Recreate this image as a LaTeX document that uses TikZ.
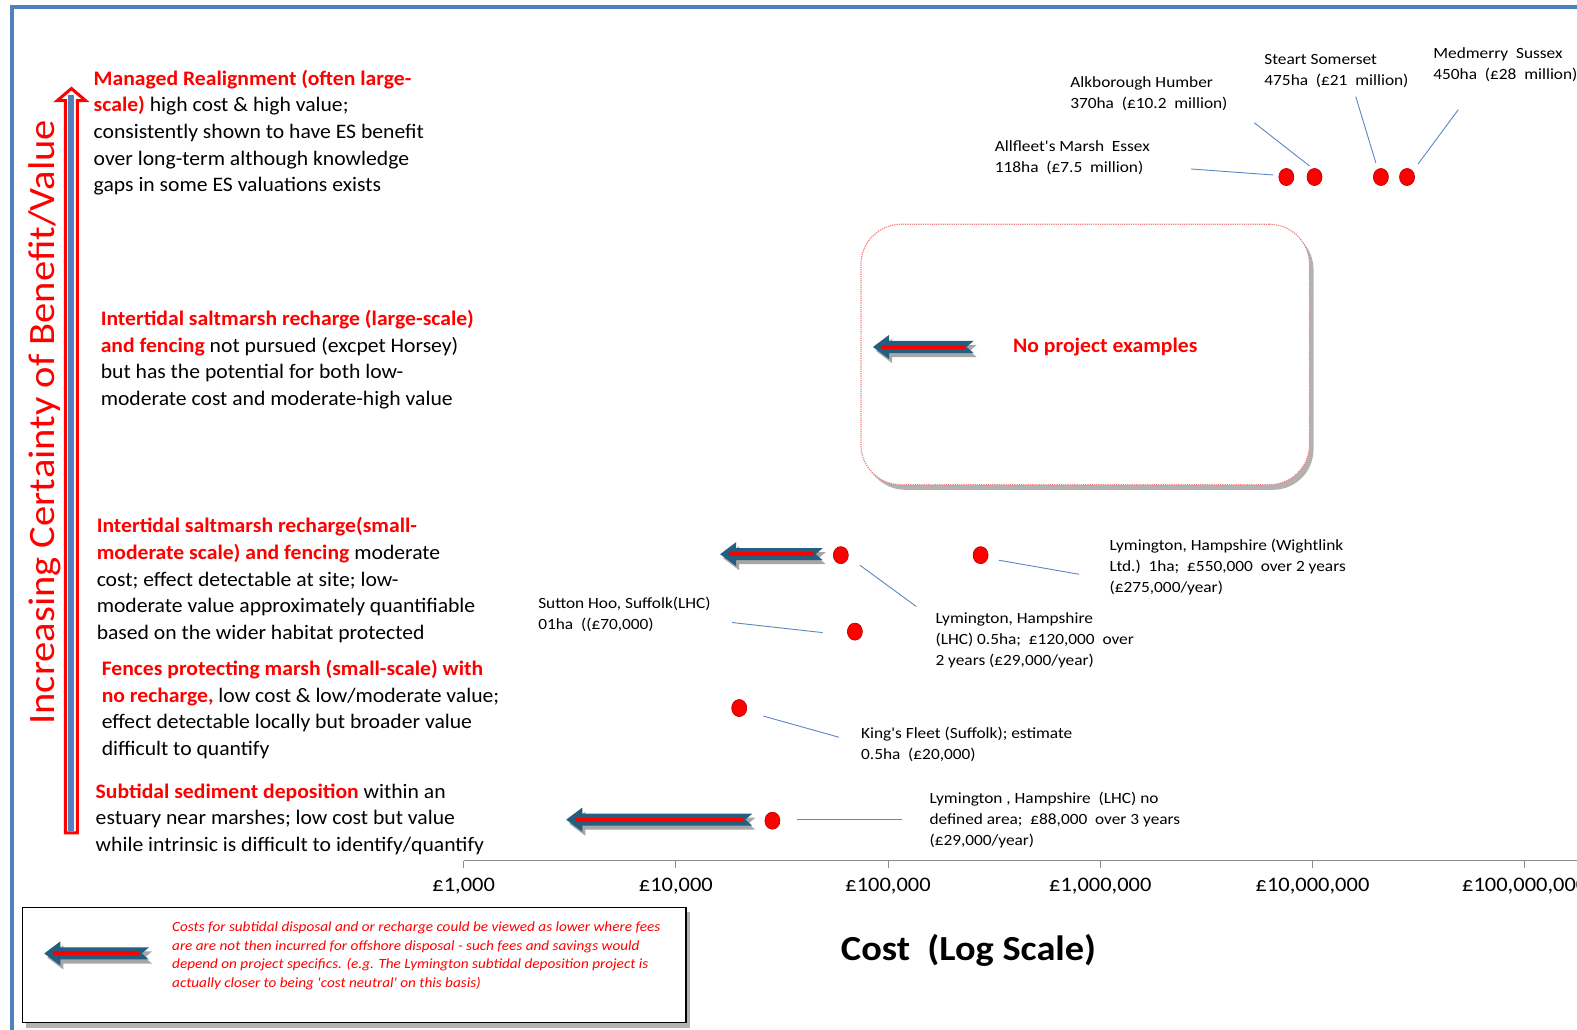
\documentclass[tikz,border=0pt]{standalone}
\usepackage{fontspec}
\setmainfont{Carlito}
\newfontfamily\fA[FakeStretch=1.05]{Carlito}
\newfontfamily\fB[FakeStretch=1.11]{Carlito}
\newfontfamily\fC[FakeStretch=1.08]{Carlito}
\newfontfamily\fD[FakeStretch=1.09]{Carlito}
\usetikzlibrary{shadows,shapes.geometric}
\definecolor{frameblue}{HTML}{4F81BD}
\definecolor{arrblue}{HTML}{245F80}
\definecolor{leadcol}{HTML}{5B87C5}
\definecolor{boxred}{HTML}{F08080}
\definecolor{dotred}{HTML}{FF0000}
\definecolor{dotedge}{HTML}{B00000}
\definecolor{axisgray}{HTML}{8C8C8C}
\newcommand{\rb}[1]{\textcolor{red}{\bfseries #1}}
\newcommand{\fatarrow}[3]{%
  \fill[arrblue, drop shadow={shadow xshift=3pt,shadow yshift=-4pt,opacity=0.35,fill=black}]
    (#1,#2) -- (#1+16,#2-12) -- (#1+16,#2-6) -- (#3,#2-6) -- (#3-7,#2) -- (#3,#2+6)
    -- (#1+16,#2+6) -- (#1+16,#2+12) -- cycle;
  \draw[red, line width=4pt] (#1+9,#2) -- (#3-9,#2);
}
\tikzset{
  blk/.style={anchor=north west, inner sep=0pt, align=left, font=\fA\fontsize{20.5}{26.5}\selectfont},
  lbl/.style={anchor=north west, inner sep=0pt, align=left, font=\fB\fontsize{15.5}{21}\selectfont},
  dot/.style={ellipse, fill=dotred, draw=dotedge, line width=0.6pt, minimum width=15pt, minimum height=17pt, inner sep=0pt},
  lead/.style={draw=leadcol, line width=0.9pt},
  ticklab/.style={font=\fD\fontsize{20.5}{22}\selectfont, inner sep=0pt},
}
\begin{document}
\begin{tikzpicture}[x=1pt,y=-1pt]
\useasboundingbox (0,0) rectangle (1568,1024);
% frame
\draw[frameblue, line width=4pt] (12,1030) -- (12,7) -- (1580,7);
% vertical arrow
\draw[red, line width=3pt, fill=white, line join=miter] (65,828) -- (77,828) -- (77,100) -- (85,100) -- (71,88) -- (57,100) -- (65,100) -- cycle;
\fill[frameblue] (68,826) rectangle (74,94);
\node[rotate=90, anchor=base, text=red, font=\fD\fontsize{37}{42}\selectfont, inner sep=0pt] (ylab) at (54,420) {Increasing Certainty of Benefit/Value};
% left text blocks
\node[blk] (t1) at (93,66) {\strut\rb{Managed Realignment (often large-}\\\rb{scale)} high cost \& high value;\\consistently shown to have ES benefit\\over long-term although knowledge\\gaps in some ES valuations exists};
\node[blk] (t2) at (100,305) {\strut\rb{Intertidal saltmarsh recharge (large-scale)}\\\rb{and fencing} not pursued (excpet Horsey)\\but has the potential for both low-\\moderate cost and moderate-high value};
\node[blk] (t3) at (96,511) {\strut\rb{Intertidal saltmarsh recharge(small-}\\\rb{moderate scale) and fencing} moderate\\cost; effect detectable at site; low-\\moderate value approximately quantifiable\\based on the wider habitat protected};
\node[blk] (t4) at (101,653) {\strut\rb{Fences protecting marsh (small-scale) with}\\\rb{no recharge,} low cost \& low/moderate value;\\effect detectable locally but broader value\\difficult to quantify};
\node[blk] (t5) at (95,775) {\strut\rb{Subtidal sediment deposition} within an\\estuary near marshes; low cost but value\\while intrinsic is difficult to identify/quantify};
% axis
\draw[axisgray, line width=1pt] (461,856) -- (1580,856);
\foreach \i in {0,...,5}{
  \draw[axisgray, line width=1pt] (461+211*\i,856) -- (461+211*\i,863);
}
\node[ticklab] (k0) at (461,881) {£1,000};
\node[ticklab] (k1) at (672,881) {£10,000};
\node[ticklab] (k2) at (883,881) {£100,000};
\node[ticklab] (k3) at (1094,881) {£1,000,000};
\node[ticklab] (k4) at (1305,881) {£10,000,000};
\node[ticklab] (k5) at (1516,881) {£100,000,000};
\node[font=\fD\bfseries\fontsize{35}{40}\selectfont, inner sep=0pt] (xlab) at (963,945) {Cost\ \ (Log Scale)};
% no project box
\node[draw=boxred, densely dotted, line width=1.2pt, fill=white, rounded corners=40pt, minimum width=446pt, minimum height=259pt,
  drop shadow={shadow xshift=4pt,shadow yshift=-5pt,opacity=0.3,fill=black}] (npbox) at (1079,352.5) {};
\node[text=red, font=\fA\bfseries\fontsize{20.5}{24}\selectfont, inner sep=0pt] (nptext) at (1099,345) {No project examples};
\fatarrow{868}{345}{968}
% top labels
\node[lbl] (la) at (989,136) {\strut Allfleet's Marsh\ \ Essex\\118ha\ \ (£7.5\ \ million)};
\node[lbl] (lb) at (1064,72) {\strut Alkborough Humber\\370ha\ \ (£10.2\ \ million)};
\node[lbl] (lc) at (1257,49) {\strut Steart Somerset\\475ha\ \ (£21\ \ million)};
\node[lbl] (ld) at (1425,43) {\strut Medmerry\ \ Sussex\\450ha\ \ (£28\ \ million)};
\node[dot] (da) at (1279,176) {};
\node[dot] (db) at (1307,176) {};
\node[dot] (dc) at (1373,176) {};
\node[dot] (dd) at (1399,176) {};
\coordinate (a1) at (1184,168); \coordinate (a2) at (1266,174);
\coordinate (b1) at (1247,122); \coordinate (b2) at (1302,165);
\coordinate (c1) at (1348,96);  \coordinate (c2) at (1368,162);
\coordinate (e1) at (1450,109); \coordinate (e2) at (1410,163);
\draw[lead] (a1) -- (a2);
\draw[lead] (b1) -- (b2);
\draw[lead] (c1) -- (c2);
\draw[lead] (e1) -- (e2);
% middle examples
\fatarrow{716}{551}{818}
\node[dot] (dm1) at (836,552) {};
\node[dot] (dm2) at (975,552) {};
\node[dot] (dm3) at (850,628) {};
\node[dot] (dm4) at (735,704) {};
\node[dot] (dm5) at (768,816) {};
\node[lbl] (lw) at (1103,532) {\strut Lymington, Hampshire (Wightlink\\Ltd.)\ \ 1ha;\ \ £550,000\ \ over 2 years\\(£275,000/year)};
\node[lbl] (ls) at (535,590) {\strut Sutton Hoo, Suffolk(LHC)\\01ha\ \ ((£70,000)};
\node[lbl] (ll) at (930,605) {\strut Lymington, Hampshire\\(LHC) 0.5ha;\ \ £120,000\ \ over\\2 years (£29,000/year)};
\node[lbl] (lk) at (856,719) {\strut King's Fleet (Suffolk); estimate\\0.5ha\ \ (£20,000)};
\node[lbl] (ln) at (924,784) {\strut Lymington\ , Hampshire\ \ (LHC) no\\defined area;\ \ £88,000\ \ over 3 years\\(£29,000/year)};
\coordinate (w1) at (993,557); \coordinate (w2) at (1073,571);
\coordinate (s1) at (728,619); \coordinate (s2) at (818,629);
\coordinate (m1) at (855,562); \coordinate (m2) at (911,603);
\coordinate (f1) at (759,712); \coordinate (f2) at (834,733);
\coordinate (n1) at (792,815); \coordinate (n2) at (897,815);
\draw[lead] (w1) -- (w2);
\draw[lead] (s1) -- (s2);
\draw[lead] (m1) -- (m2);
\draw[lead] (f1) -- (f2);
\draw[lead] (n1) -- (n2);
\fatarrow{563}{815}{748}
% legend
\node[draw=black, line width=1.2pt, fill=white, minimum width=660pt, minimum height=115pt,
  drop shadow={shadow xshift=4pt,shadow yshift=-5pt,opacity=0.3,fill=black}] (legend) at (352,959.5) {};
\fatarrow{44}{948}{148}
\node[anchor=north west, inner sep=0pt, align=left, text=red, font=\fC\itshape\fontsize{14}{18.5}\selectfont] (legtext) at (171,913)
 {\strut Costs for subtidal disposal and or recharge could be viewed as lower where fees\\are are not then incurred for offshore disposal - such fees and savings would\\depend on project specifics. (e.g. The Lymington subtidal deposition project is\\actually closer to being 'cost neutral' on this basis)};
\end{tikzpicture}
\end{document}
